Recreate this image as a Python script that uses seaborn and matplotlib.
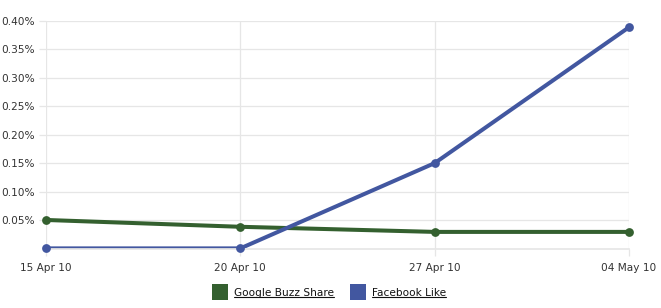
import matplotlib
matplotlib.use("Agg")
import matplotlib.pyplot as plt
import seaborn as sns
import pandas as pd
from matplotlib.lines import Line2D
from matplotlib.ticker import FuncFormatter

dates = ["15 Apr 10", "20 Apr 10", "27 Apr 10", "04 May 10"]
google_buzz = [0.050, 0.038, 0.029, 0.029]
facebook_like = [0.0, 0.0, 0.150, 0.389]
series_names = ["Google Buzz Share", "Facebook Like"]
colors = ["#34602F", "#4257A0"]
yticks = [0.05, 0.10, 0.15, 0.20, 0.25, 0.30, 0.35, 0.40]

df = pd.DataFrame({
    "date": dates * 2,
    "value": google_buzz + facebook_like,
    "series": [series_names[0]] * 4 + [series_names[1]] * 4,
})

sns.set_theme(style="white")
plt.rcParams["font.family"] = ["DejaVu Sans"]
grid_c = "#E6E6E6"
text_c = "#333333"

ymin = -0.0016
fig = plt.figure(figsize=(6.61, 3.08), dpi=100)
ax = fig.add_axes([46 / 661, 1 - 249.3 / 308, (629 - 46) / 661, (249.3 - 21) / 308])

for name, col in zip(series_names, colors):
    sub = df[df["series"] == name]
    sns.lineplot(data=sub, x="date", y="value", ax=ax, color=col, linewidth=2.9,
                 legend=False, sort=False, clip_on=True)
    sns.scatterplot(data=sub, x="date", y="value", ax=ax, color=col, s=40,
                    linewidth=0, legend=False, clip_on=False, zorder=3)

ax.set_xlim(-0.0, 3.0)
ax.set_ylim(ymin, 0.40)
ax.set_yticks(yticks)
ax.yaxis.set_major_formatter(FuncFormatter(lambda v, p: f"{v:.2f}%"))
ax.grid(True, color=grid_c, linewidth=0.9)
ax.set_axisbelow(True)
for s in ["top", "right", "left"]:
    ax.spines[s].set_visible(False)
ax.spines["bottom"].set_color(grid_c)
ax.tick_params(axis="both", length=5, width=0.9, color=grid_c, labelsize=7.6,
               labelcolor=text_c, left=True, bottom=True)
ax.tick_params(axis="x", pad=5)
ax.tick_params(axis="y", pad=3)
ax.set_xlabel("")
ax.set_ylabel("")

handles = [Line2D([], [], linestyle="none", marker="s", markersize=11.5,
                  markerfacecolor=c, markeredgewidth=0) for c in colors]
leg = fig.legend(handles, series_names, loc="center", bbox_to_anchor=(0.5, 1 - 293 / 308),
                 ncol=2, frameon=False, fontsize=7.6, handlelength=1.0, handletextpad=0.8,
                 columnspacing=1.8, labelcolor="#111111")

fig.canvas.draw()
renderer = fig.canvas.get_renderer()
inv = fig.transFigure.inverted()
for t in leg.get_texts():
    bb = t.get_window_extent(renderer)
    (x0, y0), (x1, y1) = inv.transform([[bb.x0, bb.y0], [bb.x1, bb.y1]])
    fig.add_artist(Line2D([x0, x1], [y0 + 0.002, y0 + 0.002], transform=fig.transFigure,
                          color="#111111", linewidth=0.8))

fig.savefig("out.png", dpi=100, facecolor="white")
